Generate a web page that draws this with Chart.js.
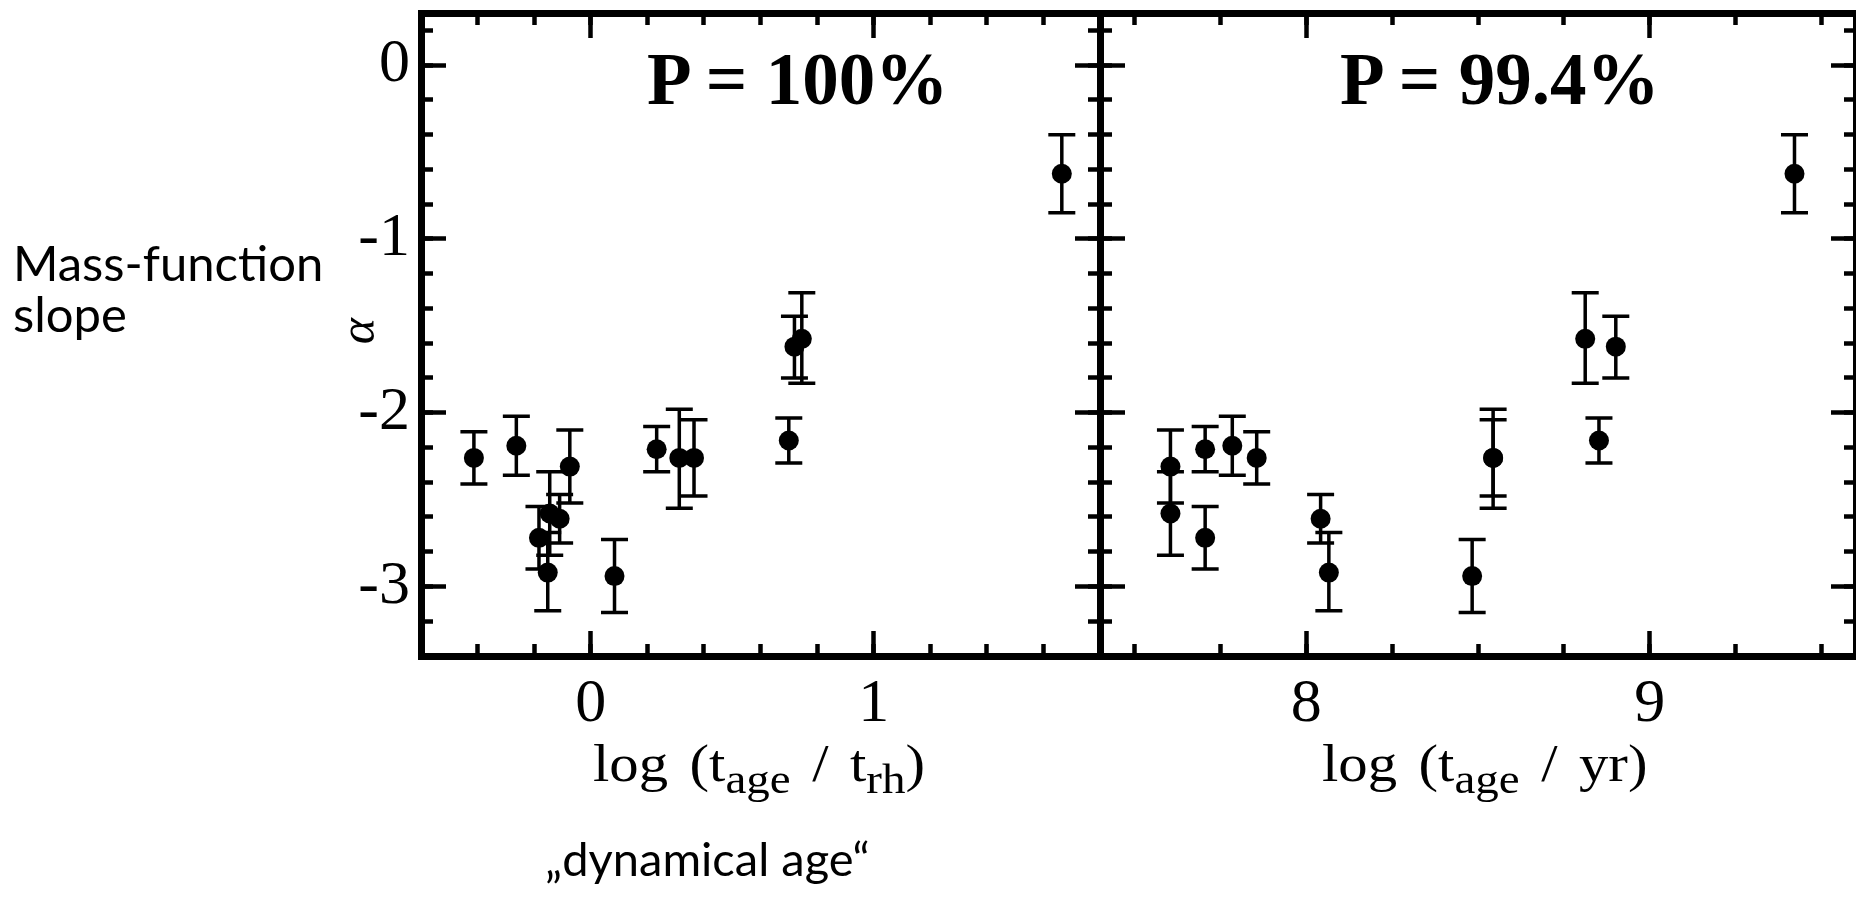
<!DOCTYPE html>
<html>
<head>
<meta charset="utf-8">
<script src="https://cdn.jsdelivr.net/npm/chart.js@4.4.1/dist/chart.umd.min.js"></script>
<style>
  body { margin: 0; background: #fff; width: 1856px; height: 897px; overflow: hidden; position: relative; }
  canvas { position: absolute; top: 0; }
  #dynChart { left: 0; }
  #ageChart { left: 1070px; }
  .t { position: absolute; white-space: nowrap; color: #000; }
  .sans { font-family: Lato, sans-serif; }
  .serif { font-family: "Liberation Serif", serif; }
  .sb { font-size: 0.8em; position: relative; top: 0.28em; }
</style>
</head>
<body>
<canvas id="dynChart" width="1130" height="897"></canvas>
<canvas id="ageChart" width="786" height="897"></canvas>

<div class="t sans" style="left:13px;top:237px;font-size:49px;line-height:51px">Mass-function<br>slope</div>
<div class="t serif" style="left:357px;top:331px;font-size:50px;line-height:50px;font-style:italic;transform:translate(-50%,-50%) rotate(-90deg)">α</div>
<div class="t serif" id="p1" style="left:647px;top:43px;font-size:73px;line-height:73px;font-weight:bold"></div>
<div class="t serif" id="p2" style="left:1340px;top:43px;font-size:73px;line-height:73px;font-weight:bold"></div>
<div class="t serif" style="left:593px;top:740px;font-size:52px;line-height:48px;word-spacing:6px;transform-origin:0 0;transform:scaleX(1.13)">log (t<span class="sb">age</span> / t<span class="sb">rh</span>)</div>
<div class="t serif" style="left:1322px;top:740px;font-size:52px;line-height:48px;word-spacing:6px;transform-origin:0 0;transform:scaleX(1.13)">log (t<span class="sb">age</span> / yr)</div>
<div class="t sans" style="left:545px;top:836px;font-size:47px;line-height:44px">„dynamical age“</div>

<script>
// mass-function slope of each cluster, with its error range
const alpha   = [-2.26, -2.19, -2.72, -2.92, -2.58, -2.61, -2.31, -2.21, -2.94, -2.26, -2.26, -2.16, -1.62, -1.575, -0.625];
const alphaLo = [-2.41, -2.36, -2.90, -3.14, -2.82, -2.75, -2.52, -2.34, -3.15, -2.55, -2.48, -2.29, -1.80, -1.83, -0.85];
const alphaHi = [-2.11, -2.02, -2.54, -2.69, -2.34, -2.47, -2.10, -2.08, -2.73, -1.98, -2.04, -2.03, -1.445, -1.31, -0.40];
// log(t_age / t_rh) and log(t_age / yr)
const logDyn = [-0.413, -0.263, -0.183, -0.152, -0.145, -0.110, -0.074, 0.233, 0.084, 0.313, 0.365, 0.700, 0.720, 0.746, 1.665];
const logAge = [7.856, 7.785, 7.706, 8.066, 7.605, 8.042, 7.605, 7.706, 8.483, 8.544, 8.544, 8.852, 8.901, 8.812, 9.421];

const yTicks = [0, -1, -2, -3];
const dynTicks = [0, 1];
const ageTicks = [8, 9];
const pLabels = ['P = 100%', 'P = 99.4%'];

document.getElementById('p1').textContent = pLabels[0];
document.getElementById('p2').textContent = pLabels[1];

const tickFont = { family: 'Liberation Serif', size: 62 };
const frame = { display: true, width: 7, color: '#000' };
const noFrame = { display: false };

// ticks point into the plot, so the length is negative
function marks(len) {
  return { display: true, drawOnChartArea: false, drawTicks: true, tickLength: -len, tickWidth: 4.5, tickColor: '#000', lineWidth: 7 };
}
const major = list => s => { s.ticks = list.map(v => ({ value: v })); };
// fixed box sizes, and no extra room for labels poking past the ends
const fixW = w => s => { s.width = w; s.paddingTop = 0; s.paddingBottom = 0; };
const fixH = h => s => { s.height = h; s.paddingLeft = 0; s.paddingRight = 0; };

function buildScales(xMin, xMax, xList, xStep, leftW, yLabels) {
  const yMin = -3.4, yMax = 0.3;
  return {
    x: { type: 'linear', axis: 'x', position: 'bottom', weight: 1, min: xMin, max: xMax,
      afterBuildTicks: major(xList),
      ticks: { font: tickFont, color: '#000', padding: 37, maxRotation: 0, autoSkip: false },
      grid: marks(25), border: frame, afterFit: fixH(241) },
    xMinor: { type: 'linear', axis: 'x', position: 'bottom', weight: 0, min: xMin, max: xMax,
      ticks: { display: false, stepSize: xStep, includeBounds: false },
      grid: marks(12), border: noFrame, afterFit: fixH(0) },
    xTop: { type: 'linear', axis: 'x', position: 'top', weight: 1, min: xMin, max: xMax,
      afterBuildTicks: major(xList), ticks: { display: false },
      grid: marks(25), border: frame, afterFit: fixH(13) },
    xTopMinor: { type: 'linear', axis: 'x', position: 'top', weight: 0, min: xMin, max: xMax,
      ticks: { display: false, stepSize: xStep, includeBounds: false },
      grid: marks(12), border: noFrame, afterFit: fixH(0) },
    y: { type: 'linear', axis: 'y', position: 'left', weight: 1, min: yMin, max: yMax,
      afterBuildTicks: major(yTicks),
      ticks: { display: yLabels, font: tickFont, color: '#000', padding: 36 },
      grid: marks(25), border: frame, afterFit: fixW(leftW) },
    yMinor: { type: 'linear', axis: 'y', position: 'left', weight: 0, min: yMin, max: yMax,
      ticks: { display: false, stepSize: 0.2, includeBounds: false },
      grid: marks(12), border: noFrame, afterFit: fixW(0) },
    yRight: { type: 'linear', axis: 'y', position: 'right', weight: 1, min: yMin, max: yMax,
      afterBuildTicks: major(yTicks), ticks: { display: false },
      grid: marks(25), border: frame, afterFit: fixW(0) },
    yRightMinor: { type: 'linear', axis: 'y', position: 'right', weight: 0, min: yMin, max: yMax,
      ticks: { display: false, stepSize: 0.2, includeBounds: false },
      grid: marks(12), border: noFrame, afterFit: fixW(0) }
  };
}

const errorBars = {
  id: 'errorBars',
  beforeDatasetsDraw(chart) {
    const { ctx, scales: { x, y } } = chart;
    ctx.save();
    ctx.strokeStyle = '#000';
    ctx.lineWidth = 3.5;
    chart.data.datasets[0].data.forEach((p, i) => {
      const px = x.getPixelForValue(p.x);
      const top = y.getPixelForValue(alphaHi[i]);
      const bot = y.getPixelForValue(alphaLo[i]);
      ctx.beginPath();
      ctx.moveTo(px, top); ctx.lineTo(px, bot);
      ctx.moveTo(px - 13.5, top); ctx.lineTo(px + 13.5, top);
      ctx.moveTo(px - 13.5, bot); ctx.lineTo(px + 13.5, bot);
      ctx.stroke();
    });
    ctx.restore();
  }
};

function panel(id, xs, xMin, xMax, xList, xStep, leftW, yLabels, pad) {
  new Chart(document.getElementById(id), {
    type: 'scatter',
    data: {
      datasets: [{
        data: xs.map((v, i) => ({ x: v, y: alpha[i] })),
        pointRadius: 10,
        pointHoverRadius: 10,
        backgroundColor: '#000',
        borderWidth: 0
      }]
    },
    options: {
      responsive: false,
      devicePixelRatio: 1,
      animation: false,
      layout: { autoPadding: false, padding: pad },
      plugins: { legend: { display: false }, tooltip: { enabled: false } },
      scales: buildScales(xMin, xMax, xList, xStep, leftW, yLabels)
    },
    plugins: [errorBars]
  });
}

panel('dynChart', logDyn, -0.6, 1.8, dynTicks, 0.2, 421, true, { left: 0, right: 30, top: 0, bottom: 0 });
panel('ageChart', logAge, 7.4, 9.6, ageTicks, 0.25, 0, false, { left: 30, right: 0, top: 0, bottom: 0 });
</script>
</body>
</html>
